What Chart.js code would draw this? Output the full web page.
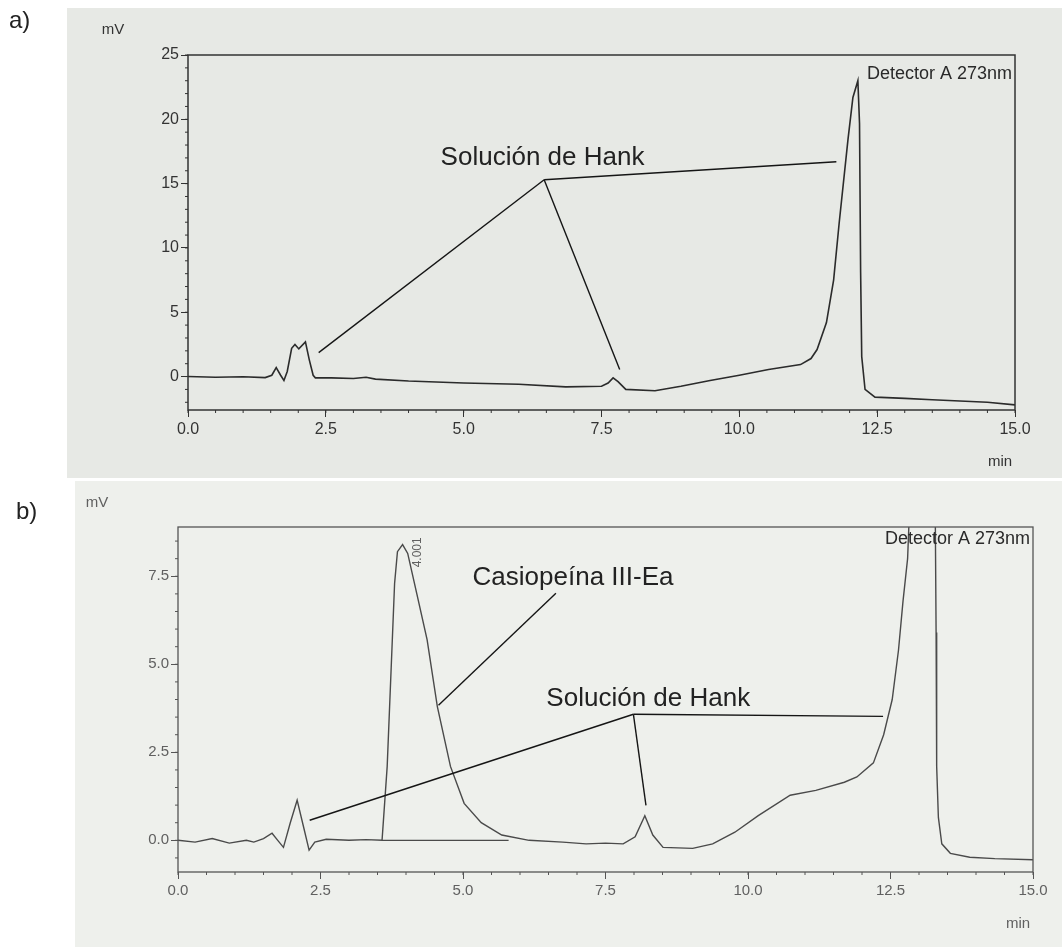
<!DOCTYPE html>
<html>
<head>
<meta charset="utf-8">
<script src="https://cdn.jsdelivr.net/npm/chart.js@4.4.1/dist/chart.umd.min.js"></script>
<style>
  html, body { margin: 0; padding: 0; background: #fff; }
  #page { position: relative; width: 1062px; height: 947px; overflow: hidden; background: #fff; }
  #photoA { position: absolute; left: 67px; top: 8px; width: 995px; height: 470px; background: #e7e9e5; }
  #photoB { position: absolute; left: 75px; top: 481px; width: 987px; height: 466px; background: #eef0ec; }
  canvas { position: absolute; left: 0; }
  #chartA { top: 0; }
  #chartB { top: 480px; }
  .tag { position: absolute; font: 24px "Liberation Sans", Arial, sans-serif; color: #222; }
</style>
</head>
<body>
<div id="page">
  <div id="photoA"></div>
  <div id="photoB"></div>
  <canvas id="chartA" width="1062" height="480"></canvas>
  <canvas id="chartB" width="1062" height="467"></canvas>
  <div class="tag" style="left:9px;top:6px;">a)</div>
  <div class="tag" style="left:16px;top:497px;">b)</div>
</div>
<script>
// ---- data (time in min, signal in mV) ----
const TIME_TICKS = [0, 2.5, 5, 7.5, 10, 12.5, 15];
const MV_TICKS_A = [0, 5, 10, 15, 20, 25];
const MV_TICKS_B = [0, 2.5, 5, 7.5];

// a) Solución de Hank
const timeA = [0, 0.5, 1.0, 1.4, 1.52, 1.6, 1.68, 1.74, 1.8, 1.88,
  1.94, 2.01, 2.13, 2.2, 2.27, 2.31, 2.6, 3.0, 3.23, 3.4,
  4.0, 5.0, 6.0, 6.85, 7.5, 7.62, 7.71, 7.8, 7.94, 8.47,
  8.94, 9.47, 10.0, 10.53, 11.11, 11.3, 11.41, 11.58, 11.71, 11.81,
  11.97, 12.06, 12.15, 12.18, 12.2, 12.22, 12.28, 12.46, 13.0, 13.5,
  14.0, 14.5, 15.0];
const mvA = [0, -0.05, -0.02, -0.08, 0.1, 0.7, 0.1, -0.3, 0.4, 2.2,
  2.5, 2.15, 2.7, 1.3, 0.1, -0.1, -0.1, -0.15, -0.05, -0.2,
  -0.35, -0.5, -0.6, -0.8, -0.75, -0.5, -0.1, -0.4, -1.0, -1.1,
  -0.75, -0.3, 0.1, 0.55, 0.93, 1.4, 2.1, 4.2, 7.5, 11.9,
  18.4, 21.7, 23.0, 19.7, 8.1, 1.55, -1.0, -1.6, -1.7, -1.8,
  -1.9, -2.0, -2.2];

// b) Casiopeína III-Ea en solución de Hank
const timeB = [0, 0.3, 0.6, 0.9, 1.2, 1.33, 1.5, 1.65, 1.75, 1.85,
  1.97, 2.09, 2.2, 2.3, 2.4, 2.6, 3.0, 3.3, 3.58, 3.67,
  3.74, 3.8, 3.85, 3.94, 4.03, 4.19, 4.37, 4.55, 4.78, 5.02,
  5.32, 5.68, 6.16, 6.75, 7.16, 7.5, 7.81, 8.02, 8.19, 8.33,
  8.51, 9.03, 9.38, 9.77, 10.18, 10.74, 11.19, 11.69, 11.91, 12.2,
  12.38, 12.53, 12.64, 12.72, 12.8, 12.86, 13.28, 13.3, 13.31, 13.34,
  13.4, 13.55, 13.89, 14.33, 15.0];
const mvB = [0, -0.05, 0.05, -0.08, 0, -0.05, 0.05, 0.2, 0.0, -0.2,
  0.5, 1.14, 0.4, -0.28, -0.05, 0.03, 0, 0.02, 0, 2.1,
  4.9, 7.3, 8.2, 8.4, 8.15, 7.0, 5.7, 3.8, 2.1, 1.05,
  0.5, 0.15, 0, -0.05, -0.1, -0.08, -0.1, 0.1, 0.7, 0.15,
  -0.2, -0.23, -0.1, 0.23, 0.7, 1.28, 1.42, 1.65, 1.8, 2.2,
  3.0, 4.0, 5.4, 6.8, 8.0, 10.5, 10.5, 5.9, 2.1, 0.65,
  -0.1, -0.37, -0.48, -0.52, -0.55];

// integration baseline under the 4.001 peak
const baseTimeB = [3.58, 5.8];
const baseMvB = [0, 0];

// leader lines [t1, mV1, t2, mV2]
const leadersA = [[6.46, 15.3, 2.37, 1.86], [6.46, 15.3, 7.83, 0.54], [6.46, 15.3, 11.76, 16.7]];
const leadersB = [[7.99, 3.58, 2.31, 0.57], [7.99, 3.58, 8.21, 0.99], [7.99, 3.58, 12.37, 3.52],
                  [6.63, 7.02, 4.57, 3.84]];
// callouts [text, t, mV]
const calloutsA = [["Solución de Hank", 6.43, 17.0]];
const calloutsB = [["Casiopeína III-Ea", 6.93, 7.47], ["Solución de Hank", 8.25, 4.03]];

const FONT = '"Liberation Sans", Arial, sans-serif';
Chart.defaults.font.family = FONT;

const zip = (xs, ys) => xs.map((x, i) => ({ x, y: ys[i] }));

// frame, minor ticks, callouts and the instrument texts
const chromPlugin = {
  id: "chrom",
  afterDraw(chart) {
    const o = chart.options.plugins.chrom;
    const { ctx, chartArea: a } = chart;
    const sx = chart.scales.x, sy = chart.scales.y;
    ctx.save();

    ctx.strokeStyle = o.frame;
    ctx.lineWidth = o.frameWidth;
    ctx.strokeRect(a.left, a.top, a.right - a.left, a.bottom - a.top);

    // minor ticks
    ctx.lineWidth = 1;
    for (let v = Math.ceil(sy.min / o.minorY) * o.minorY; v <= sy.max; v += o.minorY) {
      const py = sy.getPixelForValue(v);
      ctx.beginPath(); ctx.moveTo(a.left - 3, py); ctx.lineTo(a.left, py); ctx.stroke();
    }
    for (let v = 0; v <= 15; v += 0.5) {
      const px = sx.getPixelForValue(v);
      ctx.beginPath(); ctx.moveTo(px, a.bottom); ctx.lineTo(px, a.bottom + 3); ctx.stroke();
    }

    // leader lines
    ctx.strokeStyle = "#151515";
    ctx.lineWidth = 1.4;
    for (const [t1, v1, t2, v2] of o.leaders) {
      ctx.beginPath();
      ctx.moveTo(sx.getPixelForValue(t1), sy.getPixelForValue(v1));
      ctx.lineTo(sx.getPixelForValue(t2), sy.getPixelForValue(v2));
      ctx.stroke();
    }

    ctx.fillStyle = "#222";
    ctx.font = "26px " + FONT;
    ctx.textAlign = "center";
    ctx.textBaseline = "middle";
    for (const [txt, t, v] of o.callouts) {
      ctx.fillText(txt, sx.getPixelForValue(t), sy.getPixelForValue(v));
    }

    // retention time on the main peak
    if (o.rt) {
      ctx.save();
      ctx.translate(sx.getPixelForValue(o.rt[1]), sy.getPixelForValue(o.rt[2]));
      ctx.rotate(-Math.PI / 2);
      ctx.font = "12px " + FONT;
      ctx.fillStyle = o.axisText;
      ctx.fillText(o.rt[0], 0, 0);
      ctx.restore();
    }

    ctx.fillStyle = "#2a2a2a";
    ctx.font = "18px " + FONT;
    ctx.textAlign = "right";
    ctx.textBaseline = "top";
    ctx.fillText("Detector A 273nm", a.right - 3, a.top + o.detTop);

    ctx.fillStyle = o.axisText;
    ctx.font = "15px " + FONT;
    ctx.textAlign = "center";
    ctx.fillText("mV", o.mvPos[0], o.mvPos[1]);
    ctx.fillText("min", a.right - 15, a.bottom + 44);
    ctx.restore();
  },
};

function buildChart(id, cfg) {
  const datasets = [{
    data: zip(cfg.time, cfg.mv),
    borderColor: cfg.trace,
    borderWidth: cfg.traceWidth,
    pointRadius: 0,
    tension: 0,
  }];
  if (cfg.base) {
    datasets.push({
      data: zip(cfg.base[0], cfg.base[1]),
      borderColor: cfg.trace,
      borderWidth: 1.2,
      pointRadius: 0,
    });
  }
  const H = document.getElementById(id).height;
  return new Chart(document.getElementById(id), {
    type: "line",
    data: { datasets },
    plugins: [chromPlugin],
    options: {
      responsive: false,
      animation: false,
      layout: { padding: { left: 0, top: cfg.top, right: 1062 - cfg.right, bottom: H - cfg.bottom - 45 } },
      plugins: {
        legend: { display: false },
        tooltip: { enabled: false },
        chrom: cfg.plugin,
      },
      scales: {
        x: {
          type: "linear",
          min: 0, max: 15,
          afterBuildTicks: (s) => { s.ticks = TIME_TICKS.map((v) => ({ value: v })); },
          afterFit: (s) => { s.height = 45; },
          border: { display: false },
          grid: { drawOnChartArea: false, tickLength: 7, color: cfg.plugin.frame },
          ticks: {
            maxRotation: 0, padding: 3, color: cfg.plugin.axisText,
            font: { size: cfg.tickSize },
            callback: (v) => Number(v).toFixed(1),
          },
        },
        y: {
          min: cfg.yMin, max: cfg.yMax,
          afterBuildTicks: (s) => { s.ticks = cfg.yTicks.map((v) => ({ value: v })); },
          afterFit: (s) => { s.width = cfg.left; },
          border: { display: false },
          grid: { drawOnChartArea: false, tickLength: 7, color: cfg.plugin.frame },
          ticks: {
            padding: 2, color: cfg.plugin.axisText,
            font: { size: cfg.tickSize },
            callback: cfg.yFmt,
          },
        },
      },
    },
  });
}

buildChart("chartA", {
  time: timeA, mv: mvA,
  trace: "#2b2b2b", traceWidth: 1.6,
  left: 188, right: 1015, top: 55, bottom: 410,
  yMin: -2.6, yMax: 25, yTicks: MV_TICKS_A,
  yFmt: (v) => String(v), tickSize: 16,
  plugin: {
    frame: "#333", frameWidth: 1.5, axisText: "#333", minorY: 1,
    leaders: leadersA, callouts: calloutsA, rt: null,
    detTop: 10, mvPos: [113, 22],
  },
});

buildChart("chartB", {
  time: timeB, mv: mvB, base: [baseTimeB, baseMvB],
  trace: "#4a4a4a", traceWidth: 1.4,
  left: 178, right: 1033, top: 47, bottom: 392,
  yMin: -0.9, yMax: 8.9, yTicks: MV_TICKS_B,
  yFmt: (v) => Number(v).toFixed(1), tickSize: 15,
  plugin: {
    frame: "#555", frameWidth: 1.3, axisText: "#606060", minorY: 0.5,
    leaders: leadersB, callouts: calloutsB, rt: ["4.001", 4.21, 8.18],
    detTop: 3, mvPos: [97, 15],
  },
});
</script>
</body>
</html>
